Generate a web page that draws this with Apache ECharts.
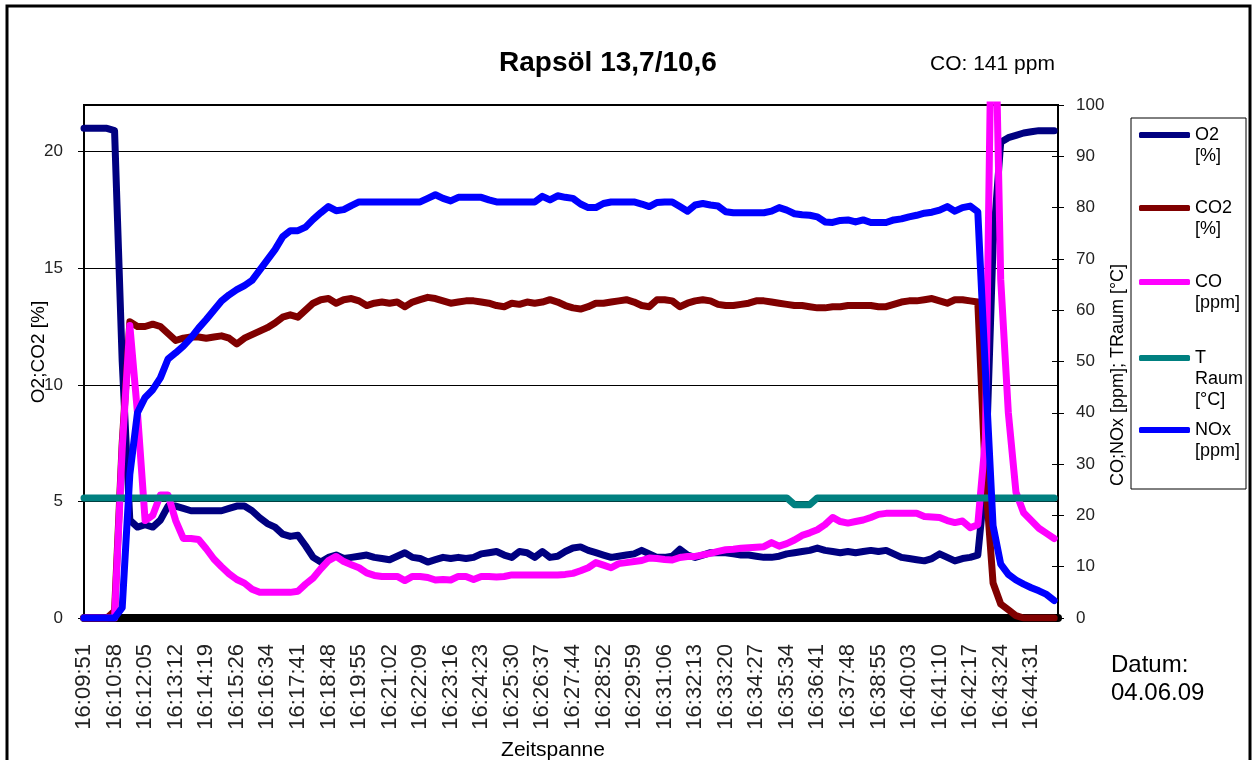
<!DOCTYPE html>
<html>
<head>
<meta charset="utf-8">
<script src="https://cdn.jsdelivr.net/npm/echarts@6/dist/echarts.min.js"></script>
<style>
  html, body { margin: 0; padding: 0; background: #fff; }
  #chart { width: 1257px; height: 760px; }
</style>
</head>
<body>
<div id="chart"></div>
<script>
// Time stamps written under the x axis (one every 4 samples)
const tickLabels = ['16:09:51','16:10:58','16:12:05','16:13:12','16:14:19','16:15:26','16:16:34','16:17:41',
  '16:18:48','16:19:55','16:21:02','16:22:09','16:23:16','16:24:23','16:25:30','16:26:37',
  '16:27:44','16:28:52','16:29:59','16:31:06','16:32:13','16:33:20','16:34:27','16:35:34',
  '16:36:41','16:37:48','16:38:55','16:40:03','16:41:10','16:42:17','16:43:24','16:44:31'];
const samplesPerTick = 4;
// labelled values of the left axis
const leftTicks = [0, 5, 10, 15, 20];

// O2 [%] (left axis)
const o2 = [21.0,21.0,21.0,21.0,20.9,11.0,4.2,3.9,
  4.0,3.9,4.2,4.8,4.8,4.7,4.6,4.6,
  4.6,4.6,4.6,4.7,4.8,4.8,4.6,4.3,
  4.05,3.9,3.6,3.5,3.55,3.1,2.6,2.4,
  2.6,2.7,2.55,2.6,2.65,2.7,2.6,2.55,
  2.5,2.65,2.8,2.6,2.55,2.4,2.5,2.6,
  2.55,2.6,2.55,2.6,2.75,2.8,2.85,2.7,
  2.6,2.85,2.8,2.6,2.85,2.6,2.65,2.85,
  3.0,3.05,2.9,2.8,2.7,2.6,2.65,2.7,
  2.75,2.9,2.75,2.6,2.6,2.65,2.95,2.7,
  2.6,2.7,2.8,2.8,2.8,2.75,2.7,2.7,
  2.65,2.6,2.6,2.65,2.75,2.8,2.85,2.9,
  3.0,2.9,2.85,2.8,2.85,2.8,2.85,2.9,
  2.85,2.9,2.75,2.6,2.55,2.5,2.45,2.55,
  2.75,2.6,2.45,2.55,2.6,2.7,6.0,16.0,
  20.4,20.6,20.7,20.8,20.85,20.9,20.9,20.9];

// CO2 [%] (left axis)
const co2 = [0,0,0,0,0.3,7.5,12.7,12.5,
  12.5,12.6,12.5,12.2,11.9,12.0,12.05,12.05,
  12.0,12.05,12.1,12.0,11.75,12.0,12.15,12.3,
  12.45,12.65,12.9,13.0,12.9,13.2,13.5,13.65,
  13.7,13.5,13.65,13.7,13.6,13.4,13.5,13.55,
  13.5,13.55,13.35,13.55,13.65,13.75,13.7,13.6,
  13.5,13.55,13.6,13.6,13.55,13.5,13.4,13.35,
  13.5,13.45,13.55,13.5,13.55,13.65,13.55,13.4,
  13.3,13.25,13.35,13.5,13.5,13.55,13.6,13.65,
  13.55,13.4,13.35,13.65,13.65,13.6,13.35,13.5,
  13.6,13.65,13.6,13.45,13.4,13.4,13.45,13.5,
  13.6,13.6,13.55,13.5,13.45,13.4,13.4,13.35,
  13.3,13.3,13.35,13.35,13.4,13.4,13.4,13.4,
  13.35,13.35,13.45,13.55,13.6,13.6,13.65,13.7,
  13.6,13.5,13.65,13.65,13.6,13.55,6.0,1.5,
  0.6,0.35,0.1,0,0,0,0,0];

// CO [ppm] (right axis), peak 141 ppm
const co = [0,0,0,0,0,33,57,40,
  19,20,24,24,19,15.5,15.5,15.3,
  13.5,11.5,10,8.6,7.5,6.8,5.6,5,
  5,5,5,5,5.2,6.6,7.8,9.6,
  11.2,12,11,10.4,9.8,8.8,8.3,8.1,
  8.1,8.1,7.3,8.1,8.1,7.9,7.4,7.5,
  7.4,8.1,8.1,7.5,8.1,8.1,8.0,8.1,
  8.4,8.4,8.4,8.4,8.4,8.4,8.4,8.5,
  8.7,9.2,9.8,10.8,10.3,9.8,10.6,10.8,
  11,11.2,11.7,11.6,11.4,11.3,11.8,12,
  12,12.3,12.6,13,13.3,13.4,13.6,13.7,
  13.8,13.9,14.7,14,14.5,15.2,16.1,16.6,
  17.2,18.2,19.6,18.8,18.5,18.8,19.1,19.6,
  20.2,20.4,20.4,20.4,20.4,20.4,19.8,19.7,
  19.6,19,18.6,18.9,17.6,18.2,35,141,
  66,40,24.5,20.5,19,17.5,16.5,15.5];

// Room temperature [°C] (right axis)
const tRaum = [23.4,23.4,23.4,23.4,23.4,23.4,23.4,23.4,
  23.4,23.4,23.4,23.4,23.4,23.4,23.4,23.4,
  23.4,23.4,23.4,23.4,23.4,23.4,23.4,23.4,
  23.4,23.4,23.4,23.4,23.4,23.4,23.4,23.4,
  23.4,23.4,23.4,23.4,23.4,23.4,23.4,23.4,
  23.4,23.4,23.4,23.4,23.4,23.4,23.4,23.4,
  23.4,23.4,23.4,23.4,23.4,23.4,23.4,23.4,
  23.4,23.4,23.4,23.4,23.4,23.4,23.4,23.4,
  23.4,23.4,23.4,23.4,23.4,23.4,23.4,23.4,
  23.4,23.4,23.4,23.4,23.4,23.4,23.4,23.4,
  23.4,23.4,23.4,23.4,23.4,23.4,23.4,23.4,
  23.4,23.4,23.4,23.4,23.4,22.1,22.1,22.1,
  23.4,23.4,23.4,23.4,23.4,23.4,23.4,23.4,
  23.4,23.4,23.4,23.4,23.4,23.4,23.4,23.4,
  23.4,23.4,23.4,23.4,23.4,23.4,23.4,23.4,
  23.4,23.4,23.4,23.4,23.4,23.4,23.4,23.4];

// NOx [ppm] (right axis)
const nox = [0,0,0,0,0,2,28,40,
  43,44.5,46.8,50.5,51.7,53,54.6,56.5,
  58.2,60,61.8,63,64,64.8,65.8,67.8,
  69.8,71.8,74.3,75.5,75.5,76.2,77.7,79,
  80.2,79.4,79.6,80.4,81.1,81.1,81.1,81.1,
  81.1,81.1,81.1,81.1,81.1,81.8,82.5,81.8,
  81.3,82,82,82,82,81.5,81.1,81.1,
  81.1,81.1,81.1,81.1,82.2,81.5,82.3,82,
  81.8,80.7,80,80,80.8,81.1,81.1,81.1,
  81.1,80.7,80.2,81,81.1,81.1,80.2,79.3,
  80.5,80.8,80.5,80.3,79.2,79,79,79,
  79,79,79.3,80,79.5,78.8,78.6,78.5,
  78.2,77.2,77.1,77.5,77.6,77.2,77.6,77.1,
  77.1,77.1,77.6,77.8,78.2,78.5,78.9,79.1,
  79.5,80.2,79.3,80,80.3,79.2,48,18,
  10.5,8.5,7.4,6.6,5.9,5.3,4.6,3.4];

const seriesNames = ['O2 [%]', 'CO2 [%]', 'CO [ppm]', 'T Raum [°C]', 'NOx [ppm]'];
const seriesData = [o2, co2, co, tRaum, nox];
const seriesColors = ['#000080', '#800000', '#ff00ff', '#008080', '#0000ff'];
const seriesAxis = [0, 0, 1, 1, 1];
// vertical centre of each legend swatch
const legendRows = [135, 208, 282, 358, 430];

const FONT = "'Liberation Sans', Arial, Helvetica, sans-serif";
const LEGEND_LH = 21;

// One legend block per series: the swatch sits beside the first word,
// the remaining words wrap below it (blank lines above keep the block centred).
const legends = seriesNames.map((name, k) => {
  const words = name.split(' ');
  const lines = words.length;
  return {
    data: [{ name: name }],
    orient: 'vertical',
    left: 1139,
    top: legendRows[k] - (2 * lines - 1) * LEGEND_LH / 2,
    padding: 0,
    itemWidth: 51,
    itemHeight: 6,
    icon: 'roundRect',
    selectedMode: false,
    formatter: n => {
      const w = n.split(' ');
      return ' \n'.repeat(w.length - 1) + w.join('\n');
    },
    textStyle: { fontFamily: FONT, fontSize: 18, lineHeight: LEGEND_LH, color: '#000' }
  };
});

const chart = echarts.init(document.getElementById('chart'), null, { renderer: 'canvas' });

chart.setOption({
  backgroundColor: '#fff',
  animation: false,
  title: {
    text: 'Rapsöl 13,7/10,6',
    left: 499, top: 49, padding: 0,
    textStyle: { fontFamily: FONT, fontSize: 28, fontWeight: 'bold', color: '#000' }
  },
  legend: legends,
  grid: {
    left: 84, right: 199, top: 105, bottom: 142,
    outerBoundsMode: 'none',
    show: true, borderColor: '#000', borderWidth: 2, backgroundColor: '#fff'
  },
  xAxis: {
    type: 'value',
    min: 0,
    max: o2.length - 0.5,
    interval: samplesPerTick,
    name: 'Zeitspanne',
    nameLocation: 'middle',
    nameGap: 122,
    nameMoveOverlap: false,
    nameTextStyle: { fontFamily: FONT, fontSize: 21, color: '#000', padding: [0, 36, 0, 0] },
    axisLine: { show: true, onZero: false, lineStyle: { color: '#000', width: 8 } },
    axisTick: { show: false },
    splitLine: { show: false },
    axisLabel: {
      rotate: 90, margin: 26, fontFamily: FONT, fontSize: 22, color: '#222',
      showMaxLabel: false,
      formatter: v => (v % samplesPerTick === 0 ? (tickLabels[v / samplesPerTick] || '') : '')
    }
  },
  yAxis: [
    {
      type: 'value', min: 0, max: 22, interval: 5, position: 'left',
      name: 'O2;CO2 [%]', nameLocation: 'middle', nameRotate: 90, nameGap: 36,
      nameMoveOverlap: false,
      nameTextStyle: { fontFamily: FONT, fontSize: 19, color: '#000', padding: [0, 0, 0, 19] },
      axisLine: { show: true, lineStyle: { color: '#000', width: 2 } },
      axisTick: { show: true, length: 6, customValues: leftTicks, lineStyle: { color: '#000', width: 1 } },
      axisLabel: {
        margin: 21, fontFamily: FONT, fontSize: 17, color: '#222',
        customValues: leftTicks
      },
      splitLine: { show: true, lineStyle: { color: '#000', width: 1 } }
    },
    {
      type: 'value', min: 0, max: 100, interval: 10, position: 'right',
      name: 'CO;NOx [ppm]; TRaum [°C]', nameLocation: 'middle', nameRotate: 90, nameGap: 51,
      nameMoveOverlap: false,
      nameTextStyle: { fontFamily: FONT, fontSize: 18, color: '#000', padding: [0, 27, 0, 0] },
      axisLine: { show: true, lineStyle: { color: '#000', width: 2 } },
      axisTick: { show: true, length: 6, lineStyle: { color: '#000', width: 1 } },
      axisLabel: { margin: 18, fontFamily: FONT, fontSize: 17, color: '#222' },
      splitLine: { show: false }
    },
    {
      // inner half of the crossing ticks on the right axis
      type: 'value', min: 0, max: 100, interval: 10, position: 'right',
      axisLine: { show: false },
      axisTick: { show: true, inside: true, length: 6, lineStyle: { color: '#000', width: 1 } },
      axisLabel: { show: false },
      splitLine: { show: false }
    }
  ],
  series: seriesNames.map((name, k) => ({
    name: name,
    type: 'line',
    yAxisIndex: seriesAxis[k],
    data: seriesData[k].map((v, i) => [i, v]),
    symbol: 'none',
    clip: true,
    lineStyle: { color: seriesColors[k], width: 7, cap: 'round', join: 'round' },
    itemStyle: { color: seriesColors[k] },
    emphasis: { disabled: true }
  })),
  graphic: [
    { type: 'rect', shape: { x: 7, y: 6, width: 1243, height: 770 },
      style: { fill: 'none', stroke: '#000', lineWidth: 3 }, silent: true },
    { type: 'rect', shape: { x: 1131, y: 118, width: 115, height: 371 },
      style: { fill: 'none', stroke: '#000', lineWidth: 1 }, silent: true },
    { type: 'text', x: 930, y: 64,
      style: { text: 'CO: 141 ppm', fontFamily: FONT, fontSize: 21, fill: '#000', verticalAlign: 'middle' } },
    { type: 'text', x: 1111, y: 665,
      style: { text: 'Datum:', fontFamily: FONT, fontSize: 24, fill: '#000', verticalAlign: 'middle' } },
    { type: 'text', x: 1111, y: 693,
      style: { text: '04.06.09', fontFamily: FONT, fontSize: 24, fill: '#000', verticalAlign: 'middle' } }
  ]
});
</script>
</body>
</html>
